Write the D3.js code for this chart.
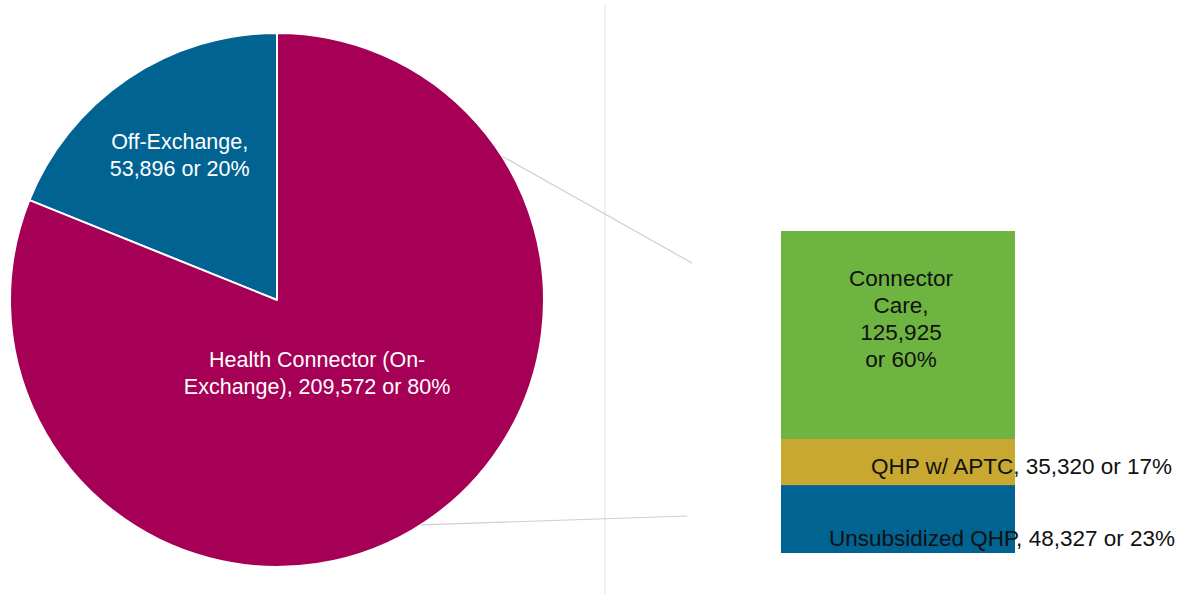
<!DOCTYPE html>
<html>
<head>
<meta charset="utf-8">
<script src="https://cdn.jsdelivr.net/npm/d3@7"></script>
<style>
  html, body { margin: 0; padding: 0; background: #fff; }
  svg { display: block; font-family: "Liberation Sans", Arial, sans-serif; }
</style>
</head>
<body>
<div class="chart"></div>
<script>
// pie: outer split
var pieCategories = ['Off-Exchange', 'Health Connector (On-Exchange)'];
var pieCounts = [53896, 209572];
var piePercents = [20, 80];
// slice sizes as they are drawn in the picture (percent of the circle)
var pieShares = [18.9, 81.1];

// bar: breakdown of the on-exchange slice, bottom to top
var barCategories = ['Unsubsidized QHP', 'QHP w/ APTC', 'Connector Care'];
var barCounts = [48327, 35320, 125925];
var barPercents = [23, 17, 60];
// segment heights as drawn (percent of the bar)
var barShares = [21.1, 14.3, 64.6];

var width = 1177, height = 594;
var pieColors = ['#006392', '#A50055'];
var barColors = ['#006392', '#C8A830', '#6EB440'];
var fmt = d3.format(',');

var svg = d3.select('.chart')
			.append('svg')
			.attr('width', width)
			.attr('height', height);

// divider line
svg.append('line')
   .attr('x1', 605).attr('x2', 605)
   .attr('y1', 5).attr('y2', height)
   .attr('stroke', '#e2e2e2')
   .attr('stroke-width', 1);

// Pie
var cx = 277, cy = 300, r = 267;
var total = d3.sum(pieShares);
var start = -2 * Math.PI * pieShares[0] / total;

var pie = d3.pie()
			.sort(null)
			.startAngle(start)
			.endAngle(start + 2 * Math.PI);

var arcs = pie(pieShares);
var arc = d3.arc().innerRadius(0).outerRadius(r);

var g = svg.append('g')
		   .attr('transform', 'translate(' + cx + ',' + cy + ')');

g.selectAll('path')
 .data(arcs)
 .enter()
 .append('path')
 .attr('d', arc)
 .attr('fill', function(d, i) { return pieColors[i]; })
 .attr('stroke', '#fff')
 .attr('stroke-width', 2)
 .attr('stroke-linejoin', 'round');

var pieLabels = [
	[pieCategories[0] + ',', fmt(pieCounts[0]) + ' or ' + piePercents[0] + '%'],
	['Health Connector (On-', 'Exchange), ' + fmt(pieCounts[1]) + ' or ' + piePercents[1] + '%']
];
var labelRadius = [174, 86];
var labelShift = [[0, 0], [-8, 3]];

arcs.forEach(function(d, i) {
	var c = d3.arc().innerRadius(labelRadius[i]).outerRadius(labelRadius[i]).centroid(d);
	var lx = c[0] + labelShift[i][0];
	var t = g.append('text')
			 .attr('text-anchor', 'middle')
			 .attr('fill', '#fff')
			 .attr('font-size', 21.5)
			 .attr('x', lx)
			 .attr('y', c[1] - 7 + labelShift[i][1]);
	pieLabels[i].forEach(function(line, j) {
		t.append('tspan')
		 .attr('x', lx)
		 .attr('dy', j === 0 ? 0 : 27)
		 .text(line);
	});
});

// Bar
var barX = 781, barW = 234;
var y = d3.scaleLinear()
		  .domain([0, d3.sum(barShares)])
		  .range([553, 231]);

var stacked = [];
var acc = 0;
barShares.forEach(function(v, i) {
	stacked.push({ y0: acc, y1: acc + v, i: i });
	acc += v;
});

svg.selectAll('rect.seg')
   .data(stacked)
   .enter()
   .append('rect')
   .attr('class', 'seg')
   .attr('x', barX)
   .attr('width', barW)
   .attr('y', function(d) { return y(d.y1); })
   .attr('height', function(d) { return y(d.y0) - y(d.y1); })
   .attr('fill', function(d) { return barColors[d.i]; });

// connector lines from pie edge to the bar
function edge(deg) {
	var a = deg * Math.PI / 180;
	return [cx + r * Math.sin(a), cy - r * Math.cos(a)];
}
var p1 = edge(57.4), p2 = edge(147.4);
svg.append('line')
   .attr('x1', p1[0]).attr('y1', p1[1])
   .attr('x2', barX - 89).attr('y2', y(d3.sum(barShares)) + 32)
   .attr('stroke', '#d0d0d0').attr('stroke-width', 1.2);
svg.append('line')
   .attr('x1', p2[0]).attr('y1', p2[1])
   .attr('x2', barX - 94).attr('y2', y(0) - 37)
   .attr('stroke', '#d0d0d0').attr('stroke-width', 1.2);

// bar labels
var midX = barX + barW / 2;
var ccLines = ['Connector', 'Care,', fmt(barCounts[2]), 'or ' + barPercents[2] + '%'];
var cc = svg.append('text')
			.attr('text-anchor', 'middle')
			.attr('font-size', 22.5)
			.attr('fill', '#111')
			.attr('y', 286);
ccLines.forEach(function(line, j) {
	cc.append('tspan')
	  .attr('x', midX + 3)
	  .attr('dy', j === 0 ? 0 : 27)
	  .text(line);
});

svg.append('text')
   .attr('text-anchor', 'end')
   .attr('font-size', 22.5)
   .attr('fill', '#111')
   .attr('x', 1172)
   .attr('y', 474)
   .text(barCategories[1] + ', ' + fmt(barCounts[1]) + ' or ' + barPercents[1] + '%');

svg.append('text')
   .attr('text-anchor', 'end')
   .attr('font-size', 22.5)
   .attr('fill', '#111')
   .attr('x', 1175)
   .attr('y', 546)
   .text(barCategories[0] + ', ' + fmt(barCounts[0]) + ' or ' + barPercents[0] + '%');
</script>
</body>
</html>
